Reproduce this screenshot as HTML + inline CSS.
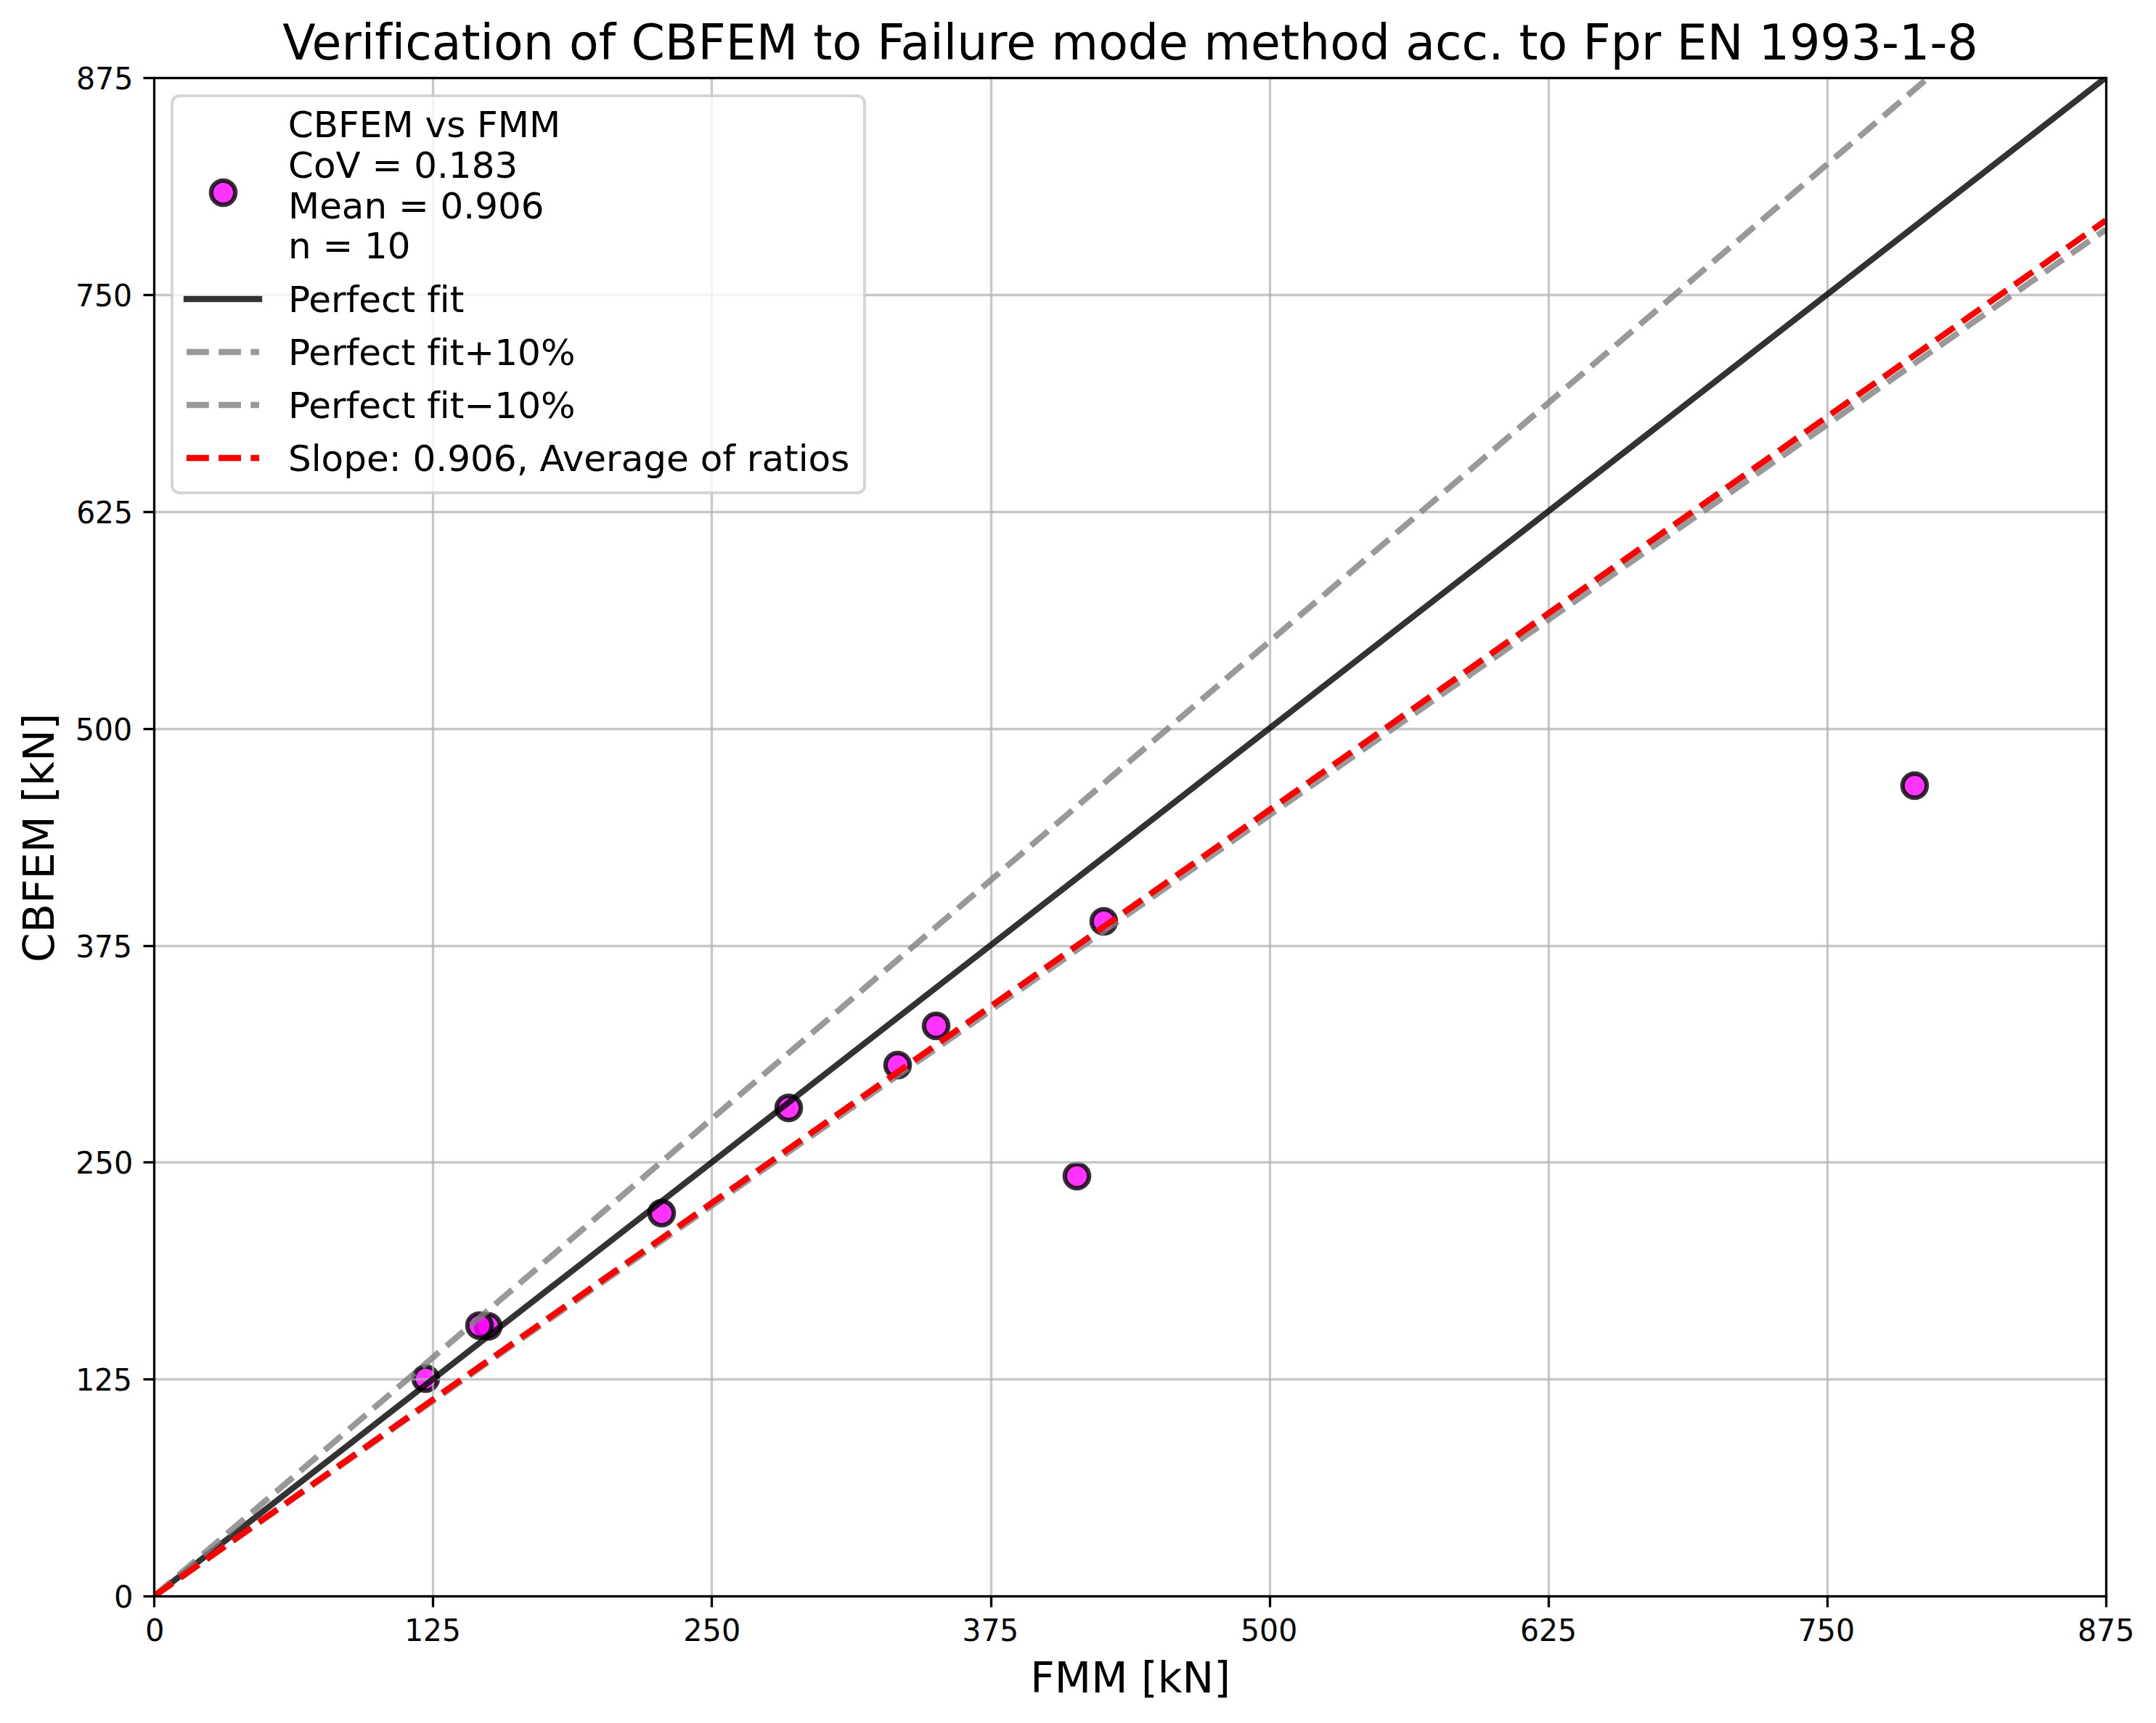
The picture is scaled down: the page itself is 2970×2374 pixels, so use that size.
<!DOCTYPE html>
<html lang="en"><head><meta charset="utf-8"><title>Verification of CBFEM to Failure mode method</title>
<style>html,body{margin:0;padding:0;background:#fff}svg{display:block}text{white-space:pre;font-variant-ligatures:none;font-kerning:normal}</style></head>
<body>
<svg width="2970" height="2374" viewBox="0 0 2970 2374" font-family='"DejaVu Sans", "Liberation Sans", sans-serif'>
<rect width="2970" height="2374" fill="#fff"/>
<clipPath id="axclip"><rect x="212.5" y="107.5" width="2689" height="2092"/></clipPath>
<g clip-path="url(#axclip)" fill="#ff00ff" fill-opacity="0.8" stroke="#000" stroke-opacity="0.8" stroke-width="6.25">
<circle cx="672.5" cy="1827.5" r="16.667"/>
<circle cx="586.5" cy="1899.5" r="16.667"/>
<circle cx="660.5" cy="1826.5" r="16.667"/>
<circle cx="911.5" cy="1671.5" r="16.667"/>
<circle cx="1086.5" cy="1526.5" r="16.667"/>
<circle cx="1236.5" cy="1467.5" r="16.667"/>
<circle cx="1289.5" cy="1413.5" r="16.667"/>
<circle cx="1483.5" cy="1620.5" r="16.667"/>
<circle cx="1520.5" cy="1269.5" r="16.667"/>
<circle cx="2637.5" cy="1082.5" r="16.667"/>
</g>
<g clip-path="url(#axclip)" stroke="#b0b0b0" stroke-opacity="0.7" stroke-width="3.333">
<line x1="596.5" y1="107.5" x2="596.5" y2="2199.5"/>
<line x1="980.5" y1="107.5" x2="980.5" y2="2199.5"/>
<line x1="1365.5" y1="107.5" x2="1365.5" y2="2199.5"/>
<line x1="1749.5" y1="107.5" x2="1749.5" y2="2199.5"/>
<line x1="2133.5" y1="107.5" x2="2133.5" y2="2199.5"/>
<line x1="2517.5" y1="107.5" x2="2517.5" y2="2199.5"/>
<line x1="212.5" y1="1900.5" x2="2901.5" y2="1900.5"/>
<line x1="212.5" y1="1601.5" x2="2901.5" y2="1601.5"/>
<line x1="212.5" y1="1303.5" x2="2901.5" y2="1303.5"/>
<line x1="212.5" y1="1004.5" x2="2901.5" y2="1004.5"/>
<line x1="212.5" y1="705.5" x2="2901.5" y2="705.5"/>
<line x1="212.5" y1="406.5" x2="2901.5" y2="406.5"/>
</g>
<g clip-path="url(#axclip)" fill="none" stroke-width="8.333">
<line x1="212.333" y1="2199.167" x2="2900.812" y2="107" stroke="#000" stroke-opacity="0.8" stroke-linecap="square"/>
<line x1="212.333" y1="2199.167" x2="2900.812" y2="-102.217" stroke="#808080" stroke-opacity="0.8" stroke-dasharray="30.833 13.333"/>
<line x1="212.333" y1="2199.167" x2="2900.812" y2="316.217" stroke="#808080" stroke-opacity="0.8" stroke-dasharray="30.833 13.333"/>
<line x1="212.333" y1="2199.167" x2="2900.812" y2="303.664" stroke="#ff0000" stroke-dasharray="30.833 13.333"/>
</g>
<g stroke="#000" stroke-width="3.333">
<line x1="212.5" y1="2199.5" x2="212.5" y2="2214.5"/>
<line x1="596.5" y1="2199.5" x2="596.5" y2="2214.5"/>
<line x1="980.5" y1="2199.5" x2="980.5" y2="2214.5"/>
<line x1="1365.5" y1="2199.5" x2="1365.5" y2="2214.5"/>
<line x1="1749.5" y1="2199.5" x2="1749.5" y2="2214.5"/>
<line x1="2133.5" y1="2199.5" x2="2133.5" y2="2214.5"/>
<line x1="2517.5" y1="2199.5" x2="2517.5" y2="2214.5"/>
<line x1="2901.5" y1="2199.5" x2="2901.5" y2="2214.5"/>
<line x1="212.5" y1="2199.5" x2="197.5" y2="2199.5"/>
<line x1="212.5" y1="1900.5" x2="197.5" y2="1900.5"/>
<line x1="212.5" y1="1601.5" x2="197.5" y2="1601.5"/>
<line x1="212.5" y1="1303.5" x2="197.5" y2="1303.5"/>
<line x1="212.5" y1="1004.5" x2="197.5" y2="1004.5"/>
<line x1="212.5" y1="705.5" x2="197.5" y2="705.5"/>
<line x1="212.5" y1="406.5" x2="197.5" y2="406.5"/>
<line x1="212.5" y1="107.5" x2="197.5" y2="107.5"/>
</g>
<rect x="212.5" y="107.5" width="2689" height="2092" fill="none" stroke="#000" stroke-width="3.333" stroke-linejoin="miter"/>
<rect x="237" y="132" width="954" height="547" rx="10" ry="10" fill="#fff" fill-opacity="0.8" stroke="#ccc" stroke-opacity="0.8" stroke-width="4.167"/>
<circle cx="307.5" cy="265.5" r="16.667" fill="#ff00ff" fill-opacity="0.8" stroke="#000" stroke-opacity="0.8" stroke-width="6.25"/>
<line x1="257" y1="412" x2="357" y2="412" stroke="#000" stroke-opacity="0.8" stroke-width="8.333" stroke-linecap="square"/>
<line x1="257" y1="485" x2="357" y2="485" stroke="#808080" stroke-opacity="0.8" stroke-width="8.333" stroke-dasharray="30.833 13.333"/>
<line x1="257" y1="558" x2="357" y2="558" stroke="#808080" stroke-opacity="0.8" stroke-width="8.333" stroke-dasharray="30.833 13.333"/>
<line x1="257" y1="631" x2="357" y2="631" stroke="#ff0000" stroke-opacity="1" stroke-width="8.333" stroke-dasharray="30.833 13.333"/>
<g fill="#000">
<text id="xt0" transform="translate(200.083 2260.833) scale(1 1.0164)" font-size="41.667">0</text>
<text id="xt1" transform="translate(557.214 2260.521) scale(0.9764 1.0308)" font-size="41.667">125</text>
<text id="xt2" transform="translate(941.283 2261.395) scale(0.9937 1.0185)" font-size="41.667">250</text>
<text id="xt3" transform="translate(1325.414 2260.958) scale(0.9796 1.0041)" font-size="41.667">375</text>
<text id="xt4" transform="translate(1708.982 2261.333) scale(0.9843 1.0329)" font-size="41.667">500</text>
<text id="xt5" transform="translate(2093.926 2261.083) scale(0.9842 1.0164)" font-size="41.667">625</text>
<text id="xt6" transform="translate(2476.682 2260.708) scale(0.9882 1.0123)" font-size="41.667">750</text>
<text id="xt7" transform="translate(2861.938 2261.021) scale(0.9874 1.0226)" font-size="41.667">875</text>
<text id="yt0" transform="translate(156.917 2215.355) scale(1 1.039)" font-size="41.667">0</text>
<text id="yt1" transform="translate(104.167 1915.661) scale(0.9787 1.0123)" font-size="41.667">125</text>
<text id="yt2" transform="translate(104.292 1616.655) scale(0.9929 1.0082)" font-size="41.667">250</text>
<text id="yt3" transform="translate(104.167 1318.899) scale(0.9788 1.037)" font-size="41.667">375</text>
<text id="yt4" transform="translate(103.667 1020.205) scale(0.989 1.0349)" font-size="41.667">500</text>
<text id="yt5" transform="translate(105.167 720.637) scale(0.9787 1.0123)" font-size="41.667">625</text>
<text id="yt6" transform="translate(103.917 422.381) scale(0.9842 1.0411)" font-size="41.667">750</text>
<text id="yt7" transform="translate(104.917 122.812) scale(0.9874 1.039)" font-size="41.667">875</text>
<text id="xlabel" transform="translate(1419.323 2331.5) scale(1 1)" font-size="58.333">FMM [kN]</text>
<text id="ylabel" transform="translate(73.5 1325.958) rotate(-90) scale(1.0013 1.0059)" font-size="58.333">CBFEM [kN]</text>
<text id="title" transform="translate(389.16 82) scale(0.9982 1.0257)" font-size="66.667">Verification of CBFEM to Failure mode method acc. to Fpr <tspan dx="0.25">EN</tspan> <tspan dx="0.2">1993-1-8</tspan></text>
<text id="leg0" transform="translate(396.833 188.625) scale(1.0007 0.9897)" font-size="50">CBFEM vs FMM</text>
<text id="leg1" transform="translate(397.083 245.225) scale(0.9988 0.9897)" font-size="50">CoV = 0.183</text>
<text id="leg2" transform="translate(397.083 300.825) scale(0.9986 0.9897)" font-size="50">Mean = 0.906</text>
<text id="leg3" transform="translate(396.958 356.425) scale(0.9978 1.0103)" font-size="50">n = 10</text>
<text id="leg4" transform="translate(396.895 429.55) scale(1.0013 0.9795)" font-size="50">Perfect fit</text>
<text id="leg5" transform="translate(396.958 502.8) scale(1.001 0.9863)" font-size="50">Perfect fit+10%</text>
<text id="leg6" transform="translate(396.895 575.988) scale(1.0014 1.0051)" font-size="50">Perfect fit−10%</text>
<text id="leg7" transform="translate(396.895 648.925) scale(1.0006 0.9897)" font-size="50">Slope: 0.906, Average of ratios</text>
</g>
</svg>
</body></html>
